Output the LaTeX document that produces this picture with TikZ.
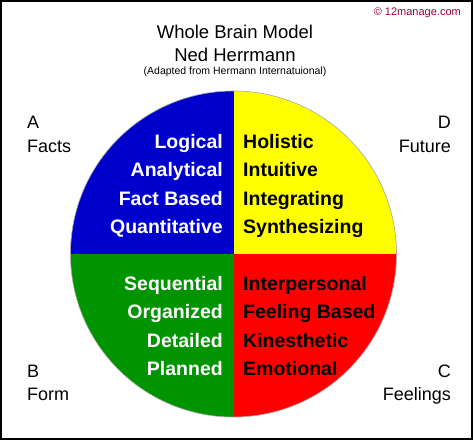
\documentclass[tikz,border=0pt]{standalone}
\usepackage{fontspec}
\setmainfont{Liberation Sans}
\definecolor{qblue}{RGB}{0,0,204}
\definecolor{qyellow}{RGB}{255,255,0}
\definecolor{qgreen}{RGB}{0,148,0}
\definecolor{qred}{RGB}{255,0,0}
\definecolor{copyred}{RGB}{153,0,51}
\tikzset{
  lt/.style={anchor=base east, inner sep=0pt, font=\fontsize{19.5}{21}\selectfont\bfseries, text=white},
  rt/.style={anchor=base west, inner sep=0pt, font=\fontsize{19.5}{21}\selectfont\bfseries, text=black},
  corner/.style={inner sep=0pt, font=\fontsize{18}{20}\selectfont},
  ttl/.style={anchor=base, inner sep=0pt, font=\fontsize{18.5}{20}\selectfont},
}
\begin{document}
\begin{tikzpicture}[x=1pt,y=-1pt]
\useasboundingbox (0,0) rectangle (474,442);
\fill[white] (0,0) rectangle (474,442);
\draw[line width=1.5pt] (1,1) rectangle (472,439);
% circle quadrants
\begin{scope}
\clip (233.5,254) circle (163);
\fill[qblue] (60,80) rectangle (233.5,253.5);
\fill[qyellow] (233.5,80) rectangle (410,253.5);
\fill[qgreen] (60,253.5) rectangle (233.5,430);
\fill[qred] (233.5,253.5) rectangle (410,430);
\end{scope}
\draw[gray!70, line width=0.6pt] (233.5,254) circle (163);
% title
\node[ttl] (t1) at (235,38) {Whole Brain Model};
\node[ttl] (t2) at (235,61) {Ned Herrmann};
\node[anchor=base, inner sep=0pt, font=\fontsize{10.5}{12}\selectfont] (t3) at (235,74) {(Adapted from Hermann Internatuional)};
\node[anchor=base east, inner sep=0pt, font=\fontsize{11}{13}\selectfont, text=copyred] (cp) at (461,15) {© 12manage.com};
% quadrant texts
\node[lt] (l1) at (223,148) {Logical};
\node[lt] (l2) at (223,176.5) {Analytical};
\node[lt] (l3) at (223,205) {Fact Based};
\node[lt] (l4) at (223,233) {Quantitative};
\node[rt] (r1) at (243,148) {Holistic};
\node[rt] (r2) at (243,176.5) {Intuitive};
\node[rt] (r3) at (243,205) {Integrating};
\node[rt] (r4) at (243,233) {Synthesizing};
\node[lt] (l5) at (223,290) {Sequential};
\node[lt] (l6) at (223,318.5) {Organized};
\node[lt] (l7) at (223,347) {Detailed};
\node[lt] (l8) at (223,375) {Planned};
\node[rt] (r5) at (243,290) {Interpersonal};
\node[rt] (r6) at (243,318.5) {Feeling Based};
\node[rt] (r7) at (243,347) {Kinesthetic};
\node[rt] (r8) at (243,375) {Emotional};
% corner labels
\node[corner, anchor=base west] (a1) at (27,128) {A};
\node[corner, anchor=base west] (a2) at (27,152) {Facts};
\node[corner, anchor=base west] (b1) at (27,377) {B};
\node[corner, anchor=base west] (b2) at (27,400) {Form};
\node[corner, anchor=base east] (d1) at (451,128) {D};
\node[corner, anchor=base east] (d2) at (451,152) {Future};
\node[corner, anchor=base east] (c1) at (451,377) {C};
\node[corner, anchor=base east] (c2) at (451,400) {Feelings};
\end{tikzpicture}
\end{document}
